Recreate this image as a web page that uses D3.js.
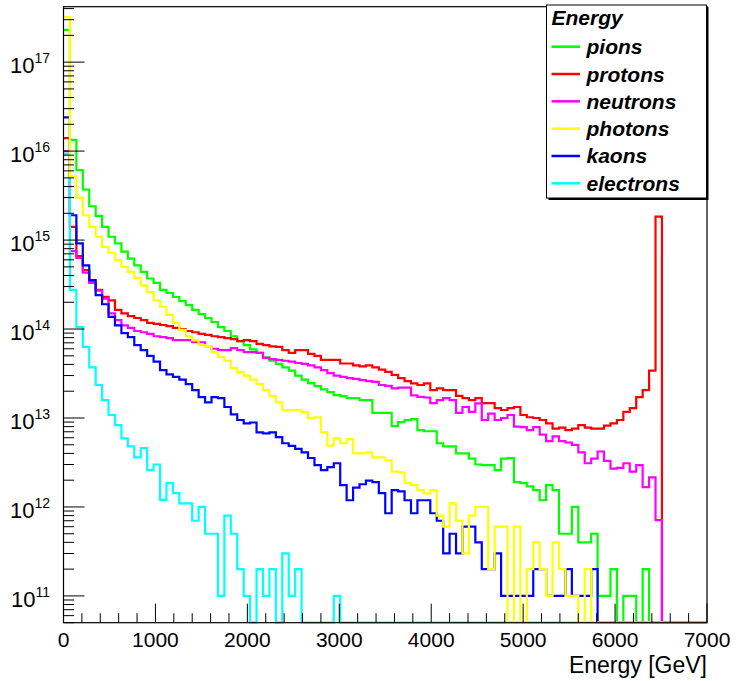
<!DOCTYPE html>
<html>
<head>
<meta charset="utf-8">
<script src="https://cdn.jsdelivr.net/npm/d3@7"></script>
<style>
  html, body { margin: 0; padding: 0; background: #fff; }
  svg { display: block; }
  text { font-family: "Liberation Sans", Arial, Helvetica, sans-serif; fill: #000; }
</style>
</head>
<body>
<svg id="chart" width="738" height="681"></svg>
<script>
// Energy spectra per particle species, 100 bins of 70 GeV from 0 to 7000 GeV.
const binWidth = 70;
const nBins = 100;

const seriesNames = ["pions", "protons", "neutrons", "photons", "kaons", "electrons"];
const seriesColors = ["#00ff00", "#ff0000", "#ff00ff", "#ffff00", "#0000ff", "#00ffff"];

const pions = [
  2.3e17, 1.34e16, 6.1e15, 3.7e15, 2.4e15, 1.87e15, 1.41e15, 1.09e15, 9.2e14, 7.4e14,
  6.2e14, 5.2e14, 4.4e14, 3.7e14, 3.3e14, 2.75e14, 2.54e14, 2.29e14, 2.06e14, 1.86e14,
  1.64e14, 1.47e14, 1.33e14, 1.2e14, 1.05e14, 9.5e13, 8.3e13, 7.3e13, 6.6e13, 5.9e13,
  5.4e13, 4.8e13, 4.4e13, 4.05e13, 3.7e13, 3.4e13, 3.0e13, 2.7e13, 2.47e13, 2.28e13,
  2.1e13, 1.95e13, 1.81e13, 1.76e13, 1.67e13, 1.67e13, 1.59e13, 1.59e13, 1.14e13, 1.14e13,
  1.14e13, 8.1e12, 9.0e12, 9.5e12, 9.7e12, 7.3e12, 7.1e12, 7.1e12, 5.2e12, 4.8e12,
  4.8e12, 4.0e12, 4.0e12, 3.5e12, 3.0e12, 2.95e12, 2.95e12, 2.6e12, 3.5e12, 3.55e12,
  1.9e12, 1.85e12, 1.7e12, 1.55e12, 1.19e12, 1.76e12, 1.55e12, 5e11, 5e11, 1.0e12,
  4e11, 4e11, 5e11, 1e11, 1e11, 2e11, 0, 1e11, 1e11, 0,
  2e11
];

const protons = [
  1.4e16, 1.41e15, 6.6e14, 4.6e14, 3.4e14, 2.75e14, 2.3e14, 2.1e14, 1.64e14, 1.5e14,
  1.4e14, 1.33e14, 1.26e14, 1.17e14, 1.14e14, 1.11e14, 1.08e14, 1.03e14, 1.0e14, 9.5e13,
  9.2e13, 8.8e13, 8.6e13, 8.3e13, 8.1e13, 7.9e13, 7.7e13, 7.3e13, 7.5e13, 7.3e13,
  6.8e13, 6.6e13, 6.4e13, 6.3e13, 5.8e13, 5.4e13, 5.8e13, 5.8e13, 5.25e13, 5.0e13,
  4.5e13, 4.5e13, 4.5e13, 4.1e13, 4.1e13, 3.9e13, 3.8e13, 3.9e13, 3.7e13, 3.5e13,
  3.3e13, 3.05e13, 2.8e13, 2.6e13, 2.45e13, 2.35e13, 2.45e13, 2.06e13, 2.15e13, 2.06e13,
  2.06e13, 1.77e13, 1.67e13, 1.59e13, 1.67e13, 1.47e13, 1.47e13, 1.29e13, 1.23e13, 1.29e13,
  1.33e13, 1.08e13, 1.02e13, 1.0e13, 9.5e12, 8.7e12, 7.6e12, 7.8e12, 7.3e12, 7.6e12,
  8.3e12, 7.8e12, 7.6e12, 7.6e12, 8.2e12, 8.7e12, 9.5e12, 1.17e13, 1.29e13, 1.72e13,
  2.06e13, 3.4e13, 1.83e15
];

const neutrons = [
  1.0e16, 7.5e14, 6.3e14, 4.3e14, 3.3e14, 2.7e14, 2.2e14, 1.5e14, 1.26e14, 1.1e14,
  1.03e14, 9.5e13, 9.2e13, 8.8e13, 8.3e13, 8.1e13, 7.9e13, 7.5e13, 7.5e13, 7.5e13,
  7.1e13, 7.1e13, 6.3e13, 6.0e13, 5.8e13, 5.8e13, 6.1e13, 5.8e13, 5.5e13, 5.5e13,
  5.4e13, 4.75e13, 4.6e13, 4.5e13, 4.4e13, 4.3e13, 4.15e13, 4.05e13, 3.9e13, 3.7e13,
  3.45e13, 3.2e13, 3.0e13, 2.9e13, 2.8e13, 2.75e13, 2.67e13, 2.6e13, 2.55e13, 2.35e13,
  2.3e13, 2.15e13, 2.2e13, 2.2e13, 1.8e13, 1.73e13, 1.7e13, 1.47e13, 1.59e13, 1.67e13,
  1.59e13, 1.14e13, 1.33e13, 1.17e13, 1.46e13, 9.5e12, 1.12e13, 9.5e12, 1.0e13, 1.08e13,
  8.0e12, 7.9e12, 7.3e12, 7.9e12, 6.5e12, 5.5e12, 6.2e12, 5.5e12, 5.3e12, 5.0e12,
  4.1e12, 3.1e12, 3.5e12, 4.2e12, 3.3e12, 2.7e12, 2.75e12, 3.1e12, 2.5e12, 2.95e12,
  1.67e12, 2.15e12, 7.1e11
];

const photons = [
  3.2e17, 5.2e15, 3.0e15, 1.9e15, 1.41e15, 1.09e15, 8.4e14, 7.2e14, 6.0e14, 5.0e14,
  4.4e14, 3.75e14, 3.1e14, 2.6e14, 2.1e14, 1.78e14, 1.44e14, 1.17e14, 9.8e13, 8.3e13,
  7.5e13, 6.6e13, 6.3e13, 5.5e13, 4.85e13, 4.4e13, 3.65e13, 3.3e13, 3.0e13, 2.7e13,
  2.4e13, 2.06e13, 1.77e13, 1.5e13, 1.23e13, 1.23e13, 1.23e13, 1.17e13, 1.0e13, 1.02e13,
  6.9e12, 4.9e12, 5.9e12, 5.2e12, 5.8e12, 4.0e12, 4.0e12, 4.1e12, 3.6e12, 3.6e12,
  3.35e12, 2.5e12, 2.45e12, 1.85e12, 1.76e12, 1.55e12, 1.42e12, 1.55e12, 8e11, 6e11,
  1.1e12, 7e11, 3e11, 8e11, 1e12, 1e12, 2e11, 6e11, 6e11, 0,
  6e11, 0, 2e11, 4e11, 2e11, 1e11, 4e11, 2e11, 1e11, 1e11,
  0, 2e11
];

const kaons = [
  2.4e16, 1.9e15, 9.2e14, 5.2e14, 3.55e14, 2.4e14, 1.9e14, 1.37e14, 1.1e14, 9.0e13,
  8.1e13, 6.6e13, 5.8e13, 5.0e13, 4.3e13, 3.45e13, 3.1e13, 2.9e13, 2.7e13, 2.4e13,
  2.06e13, 1.72e13, 1.5e13, 1.72e13, 1.67e13, 1.33e13, 1.1e13, 9.5e12, 8.7e12, 8.9e12,
  6.9e12, 6.7e12, 6.9e12, 6.1e12, 5.2e12, 4.85e12, 4.5e12, 4.1e12, 3.55e12, 2.95e12,
  2.6e12, 2.8e12, 3.1e12, 1.76e12, 1.19e12, 1.65e12, 1.8e12, 1.98e12, 1.9e12, 1.43e12,
  8.5e11, 1.55e12, 1.5e12, 1.19e12, 8.5e11, 1.19e12, 1.19e12, 8.5e11, 7e11, 3e11,
  5e11, 3e11, 6e11, 6e11, 4e11, 2e11, 2e11, 3e11, 1e11, 1e11,
  1e11, 1e11, 1e11, 2e11, 2e11, 1e11, 1e11, 1e11, 2e11, 1e11,
  1e11, 1e11, 2e11
];

const electrons = [
  9.3e15, 2.75e14, 1.05e14, 6.3e13, 3.7e13, 2.35e13, 1.59e13, 1.08e13, 8.3e12, 5.9e12,
  4.8e12, 3.6e12, 4.6e12, 2.6e12, 3.0e12, 1.2e12, 1.85e12, 1.43e12, 1.1e12, 1.1e12,
  7e11, 1e12, 5e11, 5e11, 1e11, 8e11, 5e11, 2e11, 1e11, 0,
  2e11, 1e11, 2e11, 0, 3e11, 1e11, 2e11, 0, 0, 0,
  0, 0, 1e11
];

// Axis ticks and labels
const xMajorTicks = [0, 1000, 2000, 3000, 4000, 5000, 6000, 7000];
const xMinorStep = 200;
const yDecadeExponents = [11, 12, 13, 14, 15, 16, 17];
const xTitle = "Energy [GeV]";
const legendTitle = "Energy";

const svg = d3.select("#chart");
const frame = { left: 63.5, right: 707, top: 6.7, bottom: 622.7 };

const x = d3.scaleLinear().domain([0, 7000]).range([frame.left, frame.right]);
const y = d3.scaleLog().domain([5e10, 4.2e17]).range([frame.bottom, frame.top]);

// Histogram outlines (drawing order puts photons on top)
const series = { pions, protons, neutrons, photons, kaons, electrons };
const drawOrder = ["pions", "protons", "neutrons", "kaons", "electrons", "photons"];

svg.append("defs").append("clipPath").attr("id", "plotClip")
  .append("rect")
  .attr("x", frame.left).attr("y", frame.top - 1)
  .attr("width", frame.right - frame.left).attr("height", frame.bottom - frame.top + 2);

const yOf = v => v > 0 ? y(v) : frame.bottom;
const stepLine = d3.line().x(d => x(d[0])).y(d => yOf(d[1])).curve(d3.curveStepAfter);

const plot = svg.append("g").attr("clip-path", "url(#plotClip)");
drawOrder.forEach(name => {
  const vals = series[name];
  const pts = [];
  for (let i = 0; i < nBins; i++) {
    pts.push([i * binWidth, i < vals.length ? vals[i] : 0]);
  }
  pts.push([nBins * binWidth, pts[pts.length - 1][1]]);
  plot.append("path")
    .attr("d", stepLine(pts))
    .attr("fill", "none")
    .attr("stroke", seriesColors[seriesNames.indexOf(name)])
    .attr("stroke-width", 2.2)
    .attr("stroke-linejoin", "miter");
});

// Frame and axes
const axes = svg.append("g").attr("stroke", "#000").attr("fill", "none");
axes.append("rect")
  .attr("x", frame.left).attr("y", frame.top)
  .attr("width", frame.right - frame.left).attr("height", frame.bottom - frame.top)
  .attr("stroke-width", 1.2);

// x ticks (drawn inward)
for (let v = 0; v <= 7000; v += xMinorStep) {
  const major = xMajorTicks.includes(v);
  axes.append("line")
    .attr("x1", x(v)).attr("x2", x(v))
    .attr("y1", frame.bottom).attr("y2", frame.bottom - (major ? 19 : 9.5))
    .attr("stroke-width", 1);
}
// y ticks: decades and minor multiples
const [yLo, yHi] = y.domain();
for (let e = 10; e <= 17; e++) {
  for (let m = 1; m <= 9; m++) {
    const v = m * Math.pow(10, e);
    if (v < yLo || v > yHi) continue;
    axes.append("line")
      .attr("x1", frame.left).attr("x2", frame.left + (m === 1 ? 21 : 10.5))
      .attr("y1", y(v)).attr("y2", y(v))
      .attr("stroke-width", 1);
  }
}

// x tick labels
svg.append("g").selectAll("text").data(xMajorTicks).join("text")
  .attr("x", d => x(d)).attr("y", 647)
  .attr("text-anchor", "middle")
  .attr("font-size", 21)
  .text(d => d);

// y tick labels as powers of ten
const yl = svg.append("g").selectAll("text").data(yDecadeExponents).join("text")
  .attr("x", 50).attr("y", d => y(Math.pow(10, d)) + 11)
  .attr("text-anchor", "end")
  .attr("font-size", 22);
yl.append("tspan").text("10");
yl.append("tspan").attr("font-size", 14).attr("dy", -10).text(d => d);

// x axis title
svg.append("text")
  .attr("x", frame.right).attr("y", 673)
  .attr("text-anchor", "end")
  .attr("font-size", 23)
  .text(xTitle);

// Legend box with shadow
const lg = { x: 546.5, y: 5, w: 160, h: 193 };
svg.append("rect")
  .attr("x", lg.x + 2).attr("y", lg.y + 2).attr("width", lg.w).attr("height", lg.h)
  .attr("fill", "#000");
svg.append("rect")
  .attr("x", lg.x).attr("y", lg.y).attr("width", lg.w).attr("height", lg.h)
  .attr("fill", "#fff").attr("stroke", "#000").attr("stroke-width", 1);

svg.append("text")
  .attr("x", 551.5).attr("y", 25)
  .attr("font-size", 21).attr("font-weight", "bold").attr("font-style", "italic")
  .text(legendTitle);

const rowY = d3.scaleLinear().domain([0, 5]).range([46.7, 183.3]);
const legendRows = svg.append("g").selectAll("g").data(seriesNames).join("g")
  .attr("transform", (d, i) => `translate(0,${rowY(i)})`);
legendRows.append("line")
  .attr("x1", 551.5).attr("x2", 580).attr("y1", 0).attr("y2", 0)
  .attr("stroke", (d, i) => seriesColors[i]).attr("stroke-width", 2.5);
legendRows.append("text")
  .attr("x", 586.5).attr("y", 7.5)
  .attr("font-size", 21).attr("font-weight", "bold").attr("font-style", "italic")
  .text(d => d);
</script>
</body>
</html>
